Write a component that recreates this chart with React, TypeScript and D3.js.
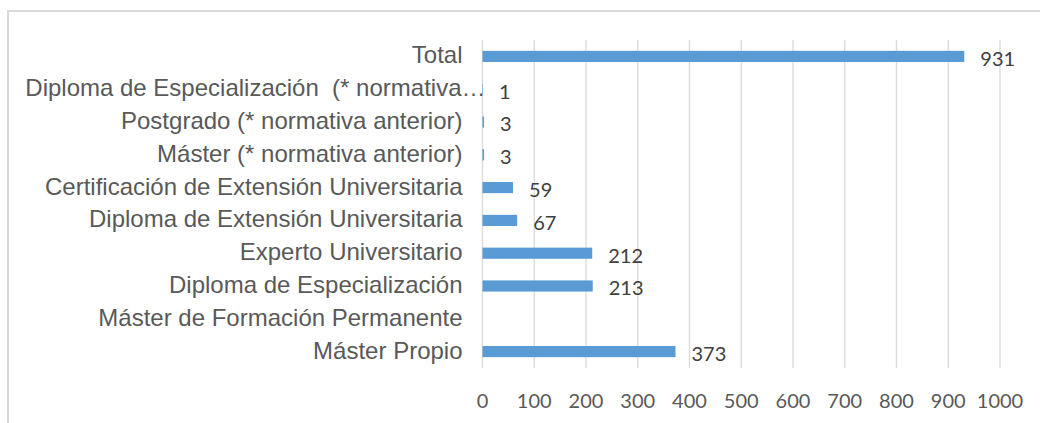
import React from "react";
import * as d3 from "d3";

const categories = [
  "Total",
  "Diploma de Especialización  (* normativa…",
  "Postgrado (* normativa anterior)",
  "Máster (* normativa anterior)",
  "Certificación de Extensión Universitaria",
  "Diploma de Extensión Universitaria",
  "Experto Universitario",
  "Diploma de Especialización",
  "Máster de Formación Permanente",
  "Máster Propio",
];
const values: (number | null)[] = [931, 1, 3, 3, 59, 67, 212, 213, null, 373];
const ticks = [0, 100, 200, 300, 400, 500, 600, 700, 800, 900, 1000];

const W = 1040;
const H = 423;
const plot = { left: 482.5, right: 1000, top: 40, bottom: 368 };

export default function App() {
  const x = d3.scaleLinear().domain([0, 1000]).range([plot.left, plot.right]);
  const y = d3
    .scaleBand<string>()
    .domain(categories)
    .range([plot.top, plot.bottom])
    .paddingInner(0.66)
    .paddingOuter(0.33);
  const bw = y.bandwidth();
  return (
    <svg
      width={W}
      height={H}
      style={{ position: "absolute", left: 0, top: 0, display: "block", background: "#fff" }}
    >
      <rect x={8} y={11} width={1100} height={600} fill="none" stroke="#d9d9d9" strokeWidth={2} />
      {ticks.map((t) => (
        <line key={t} x1={x(t)} x2={x(t)} y1={plot.top} y2={plot.bottom} stroke="#d9d9d9" strokeWidth={1.3} />
      ))}
      {categories.map((c, i) => {
        const v = values[i];
        const cy = (y(c) as number) + bw / 2;
        const truncated = c.endsWith("…");
        return (
          <g key={c}>
            {v !== null && v > 0 && (
              <rect x={x(0)} y={cy - bw / 2} width={x(v) - x(0)} height={bw} fill="#5b9bd5" />
            )}
            <text
              x={truncated ? x(0) + 3 : x(0) - 20}
              y={cy + 7}
              textAnchor="end"
              fontFamily="'Liberation Sans', Arial, sans-serif"
              fontSize={24}
              fill="#595959"
              style={{ whiteSpace: "pre" }}
            >
              {c}
            </text>
            {v !== null && (
              <text
                x={x(v) + 16}
                y={cy + 9.3}
                fontFamily="Lato, sans-serif"
                fontSize={20}
                fill="#404040"
              >
                {v}
              </text>
            )}
          </g>
        );
      })}
      {ticks.map((t) => (
        <text
          key={t}
          x={x(t)}
          y={408}
          textAnchor="middle"
          fontFamily="Lato, sans-serif"
          fontSize={20}
          fill="#595959"
        >
          {t}
        </text>
      ))}
    </svg>
  );
}
